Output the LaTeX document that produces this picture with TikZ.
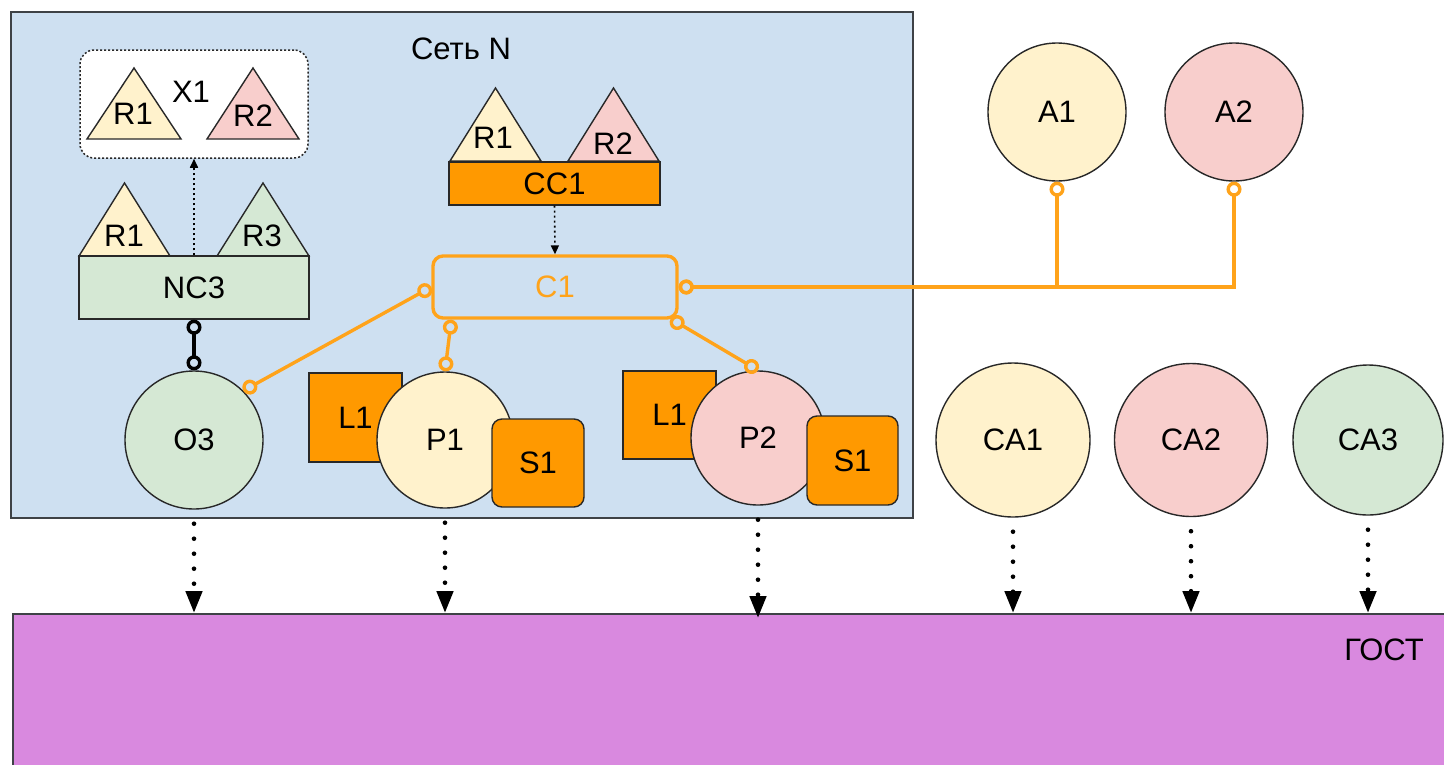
\documentclass[tikz,border=0pt]{standalone}
\usepackage{fontspec}
\setmainfont{Liberation Sans}
\usetikzlibrary{arrows.meta,calc}
\definecolor{netblue}{RGB}{206,224,241}
\definecolor{cyel}{HTML}{FFF2CC}
\definecolor{cpink}{HTML}{F8CECC}
\definecolor{cgreen}{HTML}{D5E8D4}
\definecolor{corange}{HTML}{FF9900}
\definecolor{lorange}{RGB}{255,163,26}
\definecolor{gostc}{RGB}{217,137,223}
\definecolor{edgec}{RGB}{40,40,40}
\definecolor{framec}{RGB}{62,66,70}
\newcommand\mytri[5]{\draw[shp,fill=#5] (#1,#4) -- ({(#1+#2)/2},#3) -- (#2,#4) -- cycle;}
\begin{document}
\begin{tikzpicture}[x=1pt,y=-1pt,
  every node/.style={font=\fontsize{31}{36}\selectfont, inner sep=0pt},
  shp/.style={draw=edgec, line width=1.4pt},
  circ/.style={shp, circle, minimum size=#1},
  obox/.style={shp, rectangle, fill=corange},
  oc/.style={draw=lorange, line width=3.4pt, {Circle[open,length=15pt,width=15pt]}-{Circle[open,length=15pt,width=15pt]}},
  bc/.style={draw=black, line width=3.4pt, {Circle[open,length=15pt,width=15pt]}-{Circle[open,length=15pt,width=15pt]}},
  dotarr/.style={draw=black, line width=4.6pt, line cap=round, dash pattern=on 0pt off 15pt, dash phase=-14pt, -{Triangle[length=22pt,width=16pt]}},
  smalldot/.style={draw=black, line width=1.6pt, dash pattern=on 2pt off 3pt, -{Triangle[length=9pt,width=8pt]}},
]
\useasboundingbox (0,0) rectangle (1444,764);
\clip (0,0) rectangle (1444,764);

% network container
\draw[draw=framec, line width=2.5pt, fill=netblue] (11,12) rectangle (913,518);
\node (netlbl) at (461,49) {Сеть N};

% X1
\node[draw=edgec, line width=1.5pt, dash pattern=on 2pt off 2pt, fill=white, rounded corners=14pt,
      minimum width=228pt, minimum height=108pt] (X1) at (194,104) {};
\mytri{87}{181}{68}{139}{cyel}
\mytri{207}{299}{68}{139}{cpink}
\node (x1r1) at (133,114) {R1};
\node (x1r2) at (253,116) {R2};
\node (x1lbl) at (191,92) {X1};

% NC3
\mytri{79}{170}{183}{256}{cyel}
\mytri{217}{309}{183}{256}{cgreen}
\node[shp, fill=cgreen, minimum width=230pt, minimum height=63pt] (NC3) at (194,287.5) {NC3};
\node (ncr1) at (124,236) {R1};
\node (ncr3) at (262,236) {R3};

% CC1
\mytri{450}{541}{88}{161}{cyel}
\mytri{568}{659}{88}{161}{cpink}
\node[obox, minimum width=211pt, minimum height=43pt] (CC1) at (554.5,183.5) {CC1};
\node (ccr1) at (493,138) {R1};
\node (ccr2) at (613,144) {R2};

% C1
\node[draw=lorange, line width=3.4pt, rounded corners=10pt, minimum width=244pt, minimum height=62pt,
      text=lorange] (C1) at (555,287) {C1};

% O3
\node[circ=138pt, fill=cgreen] (O3) at (194,440) {O3};

% P1 group
\node[obox, minimum width=93pt, minimum height=89pt] (L1a) at (355.5,417.5) {L1};
\node[circ=136pt, fill=cyel] (P1) at (445,440) {P1};
\node[obox, rounded corners=10pt, minimum width=92pt, minimum height=88pt] (S1a) at (538,463) {S1};

% P2 group
\node[obox, minimum width=93pt, minimum height=88pt] (L1b) at (669.5,415) {L1};
\node[circ=134pt, fill=cpink] (P2) at (758,438) {P2};
\node[obox, rounded corners=10pt, minimum width=91pt, minimum height=89pt] (S1b) at (852.5,460.5) {S1};

% outside
\node[circ=138pt, fill=cyel] (A1) at (1057,112) {A1};
\node[circ=138pt, fill=cpink] (A2) at (1234,112) {A2};
\node[circ=154pt, fill=cyel] (CA1) at (1013,440) {CA1};
\node[circ=153pt, fill=cpink] (CA2) at (1191,440) {CA2};
\node[circ=150pt, fill=cgreen] (CA3) at (1368,440) {CA3};

% GOST
\node[draw=framec, line width=2pt, fill=gostc, anchor=north west, minimum width=1450pt, minimum height=170pt] (gost) at (12,613) {};
\node (gostlbl) at (1384,650) {ГОСТ};

% connectors
\draw[smalldot] (NC3.north) -- (X1.south);
\draw[smalldot] (CC1.south) -- (C1.north);
\draw[bc] (NC3.south) -- (O3.north);
\draw[oc] (C1.west) -- (O3.45);
\draw[oc] ($(C1.south west)+(20,0)$) -- (P1.north);
\draw[oc] ($(C1.south east)+(-8,-1)$) -- (P2.north);
\draw[oc] (C1.east) -| (A1.south);
\draw[oc] (C1.east) -| (A2.south);

\foreach \n in {O3,P1,CA1,CA2,CA3}{
  \draw[dotarr] (\n.south) -- (\n.south |- gost.north);
}
\draw[dotarr, shorten >=-5pt] (P2.south) -- (P2.south |- gost.north);
\end{tikzpicture}
\end{document}
